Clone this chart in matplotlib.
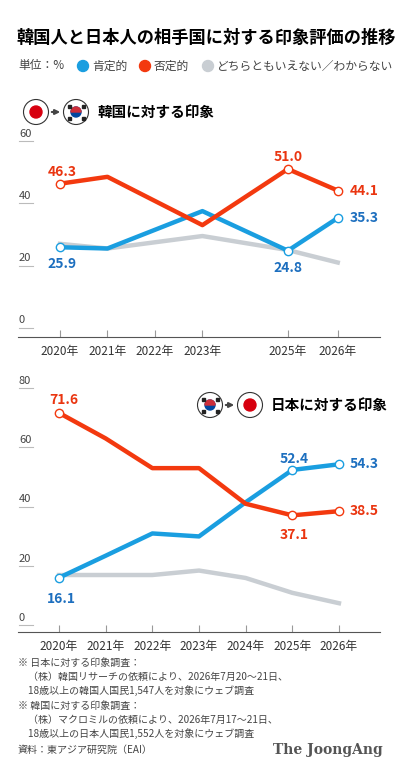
import matplotlib
matplotlib.use("Agg")
import matplotlib.pyplot as plt
import matplotlib.patches as patches

plt.rcParams['font.family'] = ['Noto Sans CJK JP', 'DejaVu Sans']

# Japan -> Korea (top chart)
top_years = ['2020年', '2021年', '2022年', '2023年', '2025年', '2026年']
top_pos = [0, 1, 2, 3, 4.8, 5.85]
top_pos_yes = [25.9, 25.5, None, 37.5, 24.8, 35.3]
top_neg = [46.3, 48.5, None, 33.0, 51.0, 44.1]
top_gray = [27.0, 25.5, None, 29.5, 25.0, 21.0]

# Korea -> Japan (bottom chart)
bot_years = ['2020年', '2021年', '2022年', '2023年', '2024年', '2025年', '2026年']
bot_pos_yes = [16.1, 23.5, 31.0, 30.0, 41.5, 52.4, 54.3]
bot_neg = [71.6, 63.0, 53.0, 53.0, 41.0, 37.1, 38.5]
bot_gray = [17.0, 17.0, 17.0, 18.5, 16.0, 11.0, 7.5]

BLUE, RED, GRAY = '#1a9ee0', '#f3390f', '#c9ced3'
BLUE_T, RED_T = '#1d6fbf', '#ea3510'

fig = plt.figure(figsize=(4, 7.63), dpi=100)
W, H = 400, 763

# overlay in pixel coordinates for text, dots and flags
ov = fig.add_axes([0, 0, 1, 1], zorder=5)
ov.set_xlim(0, W)
ov.set_ylim(H, 0)
ov.axis('off')

ov.text(16, 38, '韓国人と日本人の相手国に対する印象評価の推移', fontsize=12.4,
        fontweight='bold', va='center', ha='left')
ov.text(18, 66, '単位：%', fontsize=8.5, color='#444', va='center')
for xx, c, lab in [(83, BLUE, '肯定的'), (145, RED, '否定的'), (208, GRAY, 'どちらともいえない／わからない')]:
    ov.add_patch(patches.Circle((xx, 66), 5.5, color=c))
    ov.text(xx + 9, 66, lab, fontsize=8.5, color='#444', va='center')


def flag(cx, cy, kind):
    ov.add_patch(patches.Circle((cx, cy), 12.5, facecolor='white', edgecolor='#333', lw=0.8))
    if kind == 'jp':
        ov.add_patch(patches.Circle((cx, cy), 6, color='#d7000f'))
    else:
        ov.add_patch(patches.Circle((cx, cy), 5, color='#0047a0'))
        ov.add_patch(patches.Wedge((cx, cy), 5, 180, 360, color='#cd2e3a'))
        for dx, dy in [(-7, -6), (7, -6), (-7, 6), (7, 6)]:
            ov.add_patch(patches.Rectangle((cx + dx - 1.5, cy + dy - 1.5), 3, 3, color='#222'))


def heading(x0, y0, first, second, text):
    flag(x0, y0, first)
    ov.annotate('', xy=(x0 + 27, y0), xytext=(x0 + 13, y0),
                arrowprops=dict(arrowstyle='-|>', color='#444', lw=1.5, mutation_scale=7))
    flag(x0 + 40, y0, second)
    ov.text(x0 + 61, y0, text, fontsize=10.5, fontweight='bold', va='center')


heading(36, 112, 'jp', 'kr', '韓国に対する印象')
heading(210, 405, 'kr', 'jp', '日本に対する印象')


def segs(xs, ys):
    cx, cy = [], []
    for x, y in zip(xs, ys):
        if y is not None:
            cx.append(x)
            cy.append(y)
    return cx, cy


def setup(ax, positions, labels, yticks, ylim, xlim):
    ax.set_xlim(*xlim)
    ax.set_ylim(*ylim)
    ax.patch.set_alpha(0)
    for s in ['top', 'right', 'left']:
        ax.spines[s].set_visible(False)
    ax.spines['bottom'].set_color('#555')
    ax.set_xticks(positions)
    ax.set_xticklabels(labels, fontsize=8.5, color='#333')
    ax.tick_params(axis='x', direction='in', length=5, color='#999', pad=6)
    ax.set_yticks([])
    x0 = xlim[0] + 0.02
    for t in yticks:
        ax.text(x0, t + 0.8, str(t), fontsize=8, color='#444', va='bottom')
        ax.plot([x0, x0 + 0.3], [t, t], color='#bbb', lw=0.8, clip_on=False)


# top chart
ax1 = fig.add_axes([18 / W, 1 - 337 / H, 362 / W, (337 - 141) / H])
setup(ax1, top_pos, top_years, [0, 20, 40, 60], (-2.9, 60), (-0.884, 6.74))
for ys, c in [(top_gray, GRAY), (top_pos_yes, BLUE), (top_neg, RED)]:
    x, y = segs(top_pos, ys)
    ax1.plot(x, y, color=c, lw=3.2)
for i in [0, 4, 5]:
    ax1.plot(top_pos[i], top_pos_yes[i], 'o', ms=6, mfc='white', mec=BLUE, mew=1)
    ax1.plot(top_pos[i], top_neg[i], 'o', ms=6, mfc='white', mec=RED, mew=1)
lk = dict(fontsize=10, fontweight='bold')
ax1.text(0.05, top_neg[0] + 2.5, '46.3', color=RED_T, ha='center', **lk)
ax1.text(0.05, top_pos_yes[0] - 6.5, '25.9', color=BLUE_T, ha='center', **lk)
ax1.text(4.8, top_neg[4] + 2.5, '51.0', color=RED_T, ha='center', **lk)
ax1.text(4.8, top_pos_yes[4] - 7, '24.8', color=BLUE_T, ha='center', **lk)
ax1.text(6.1, top_neg[5], '44.1', color=RED_T, va='center', **lk)
ax1.text(6.1, top_pos_yes[5], '35.3', color=BLUE_T, va='center', **lk)

# bottom chart
bpos = list(range(7))
ax2 = fig.add_axes([18 / W, 1 - 632 / H, 362 / W, (632 - 388) / H])
setup(ax2, bpos, bot_years, [0, 20, 40, 60, 80], (-2.2, 80), (-0.88, 6.88))
for ys, c in [(bot_gray, GRAY), (bot_pos_yes, BLUE), (bot_neg, RED)]:
    ax2.plot(bpos, ys, color=c, lw=3.2)
for i in [0, 5, 6]:
    ax2.plot(i, bot_pos_yes[i], 'o', ms=6, mfc='white', mec=BLUE, mew=1)
    ax2.plot(i, bot_neg[i], 'o', ms=6, mfc='white', mec=RED, mew=1)
ax2.text(0.1, bot_neg[0] + 3, '71.6', color=RED_T, ha='center', **lk)
ax2.text(0.05, bot_pos_yes[0] - 8.5, '16.1', color=BLUE_T, ha='center', **lk)
ax2.text(5.05, bot_pos_yes[5] + 2.5, '52.4', color=BLUE_T, ha='center', **lk)
ax2.text(5.05, bot_neg[5] - 8, '37.1', color=RED_T, ha='center', **lk)
ax2.text(6.22, bot_pos_yes[6], '54.3', color=BLUE_T, va='center', **lk)
ax2.text(6.22, bot_neg[6], '38.5', color=RED_T, va='center', **lk)

notes = [
    (663, '※ 日本に対する印象調査：'),
    (677, '　（株）韓国リサーチの依頼により、2026年7月20～21日、'),
    (691, '　18歳以上の韓国人国民1,547人を対象にウェブ調査'),
    (706, '※ 韓国に対する印象調査：'),
    (720, '　（株）マクロミルの依頼により、2026年7月17～21日、'),
    (734, '　18歳以上の日本人国民1,552人を対象にウェブ調査'),
]
for yy, t in notes:
    ov.text(18, yy, t, fontsize=7.2, color='#444', va='center')
ov.text(18, 750, '資料：東アジア研究院（EAI）', fontsize=7.2, color='#444', va='center')
ov.text(383, 750, 'The JoongAng', fontsize=10, color='#555', va='center', ha='right',
        family=['DejaVu Serif'], fontweight='bold')

fig.savefig('out.png', dpi=100)
